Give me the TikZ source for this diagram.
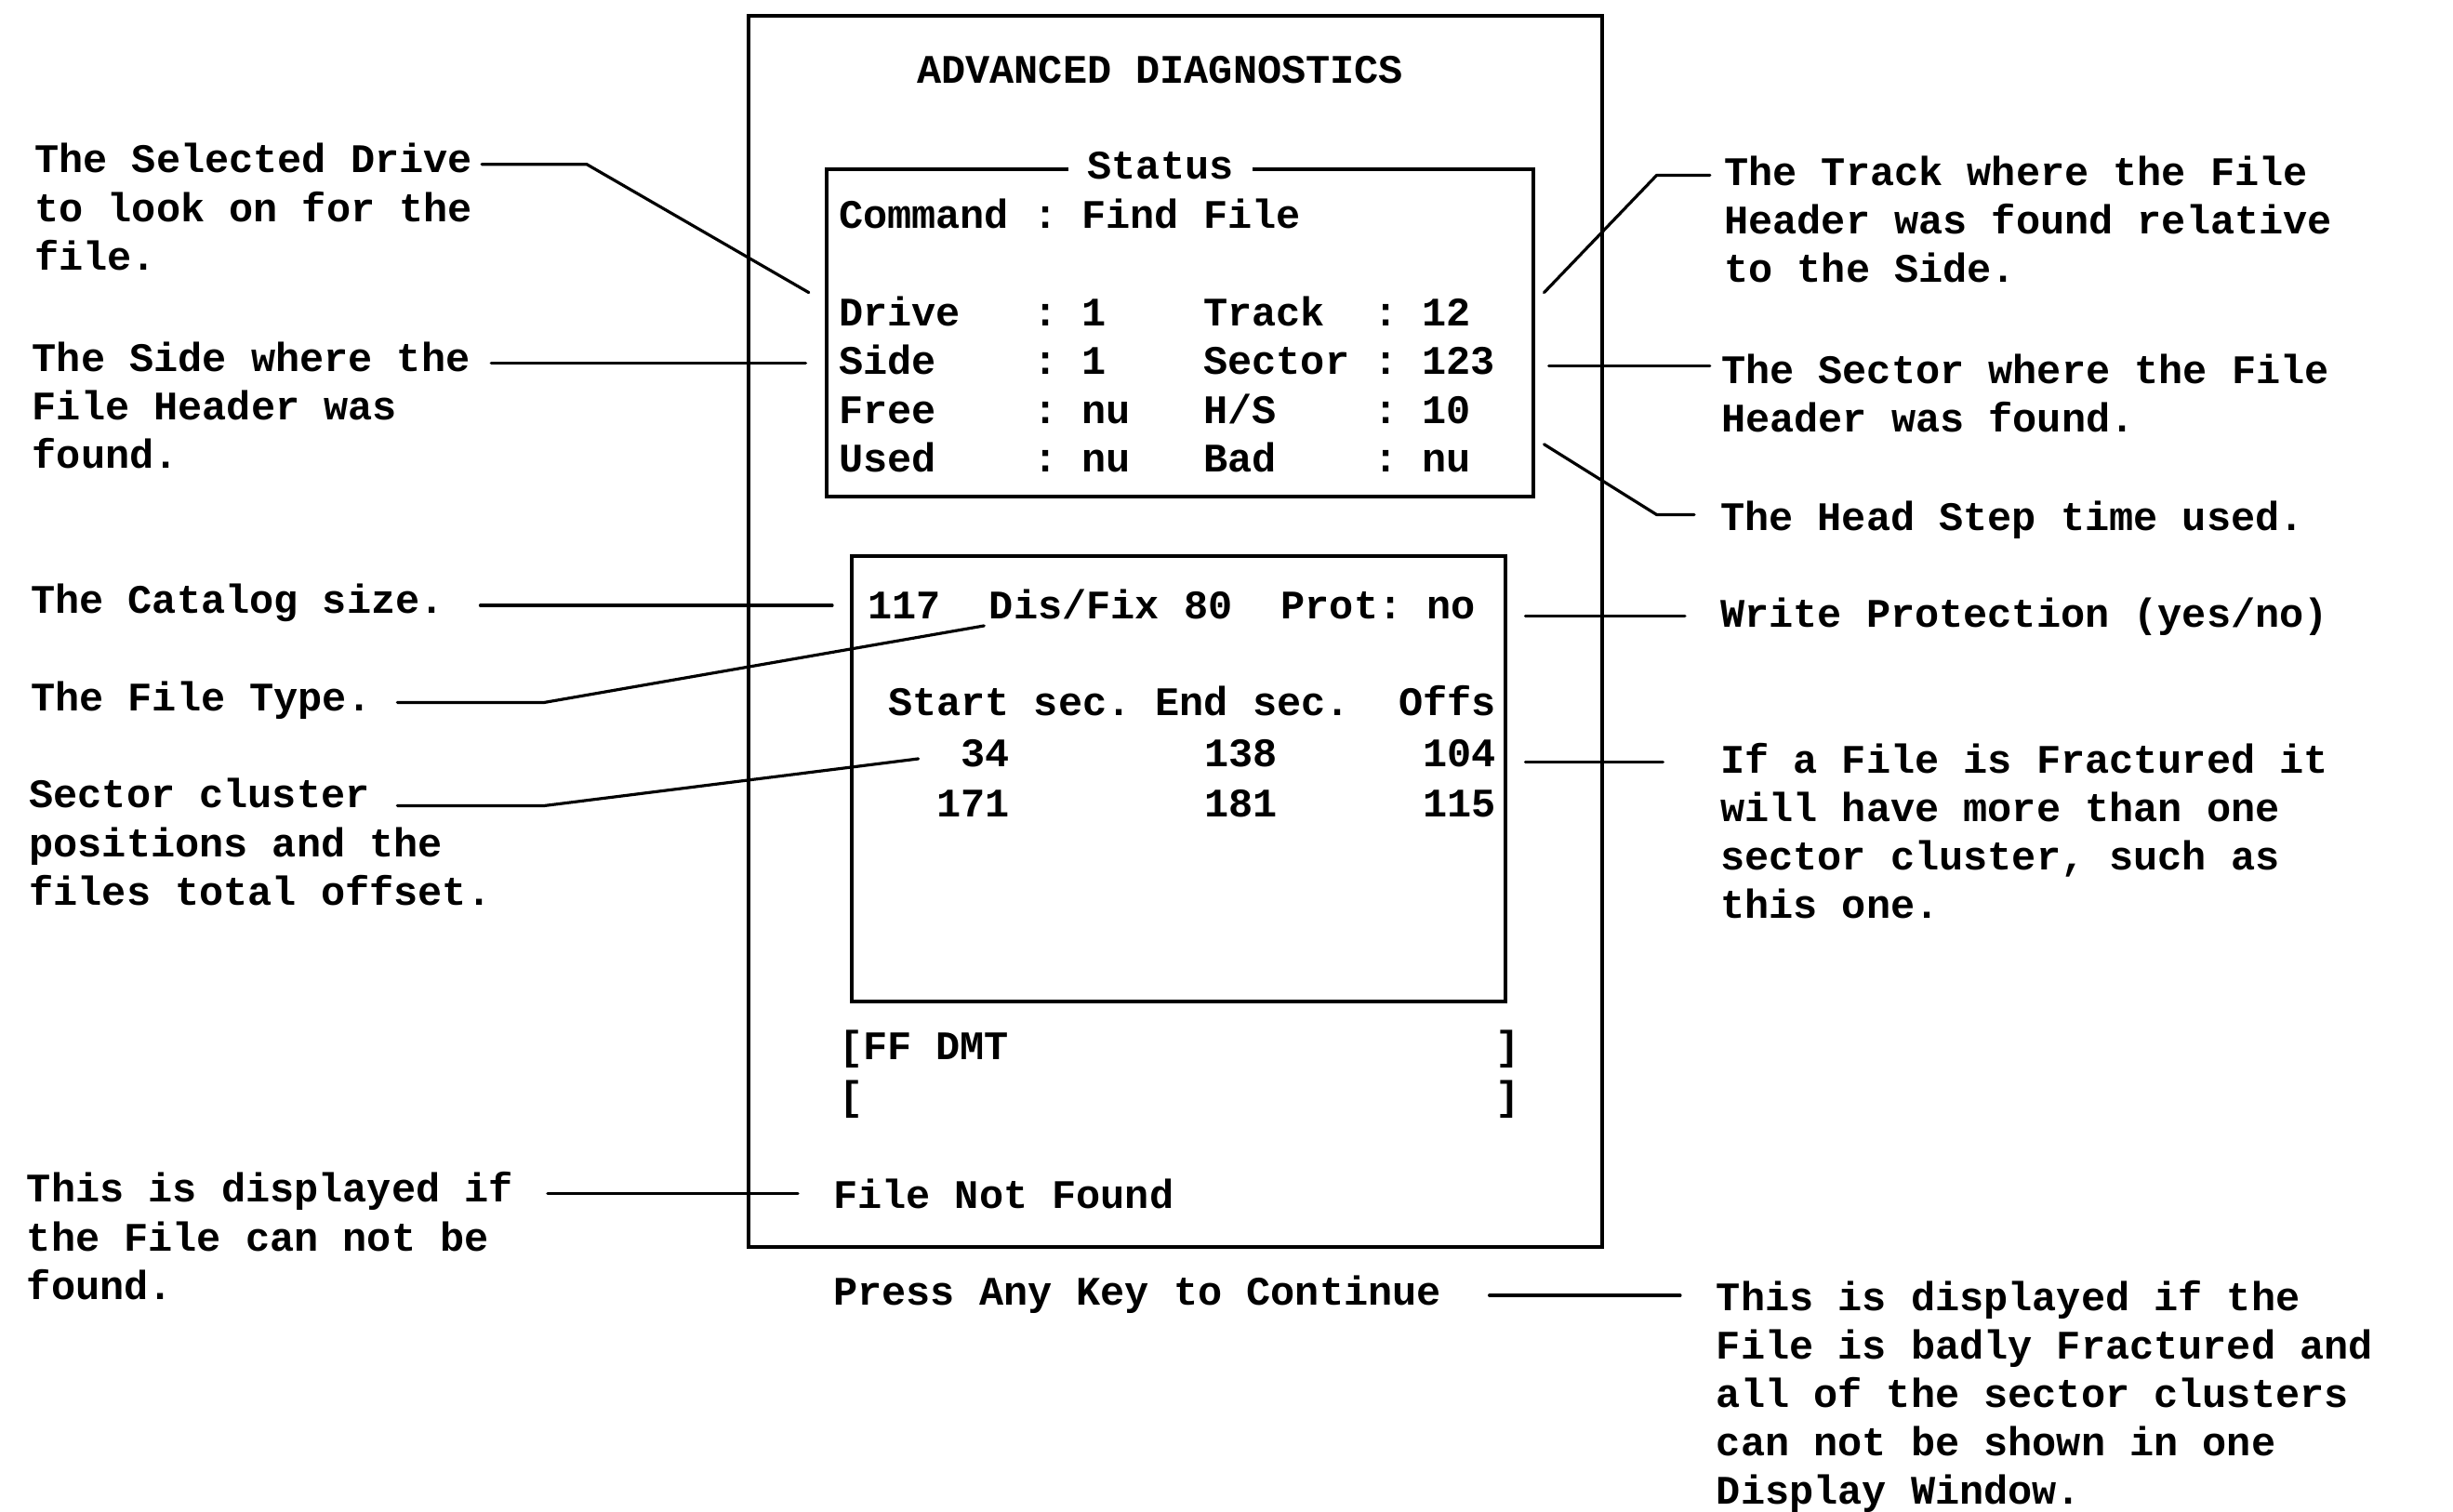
\documentclass[tikz,border=0pt]{standalone}
\usepackage{fontspec}
\newfontfamily\screenfont{Liberation Mono}
% multi-line label whose base line is the first line
\newcommand\mlines[1]{\begin{tabular}[t]{@{}l@{}}#1\end{tabular}}
\frenchspacing
\begin{document}
\begin{tikzpicture}[x=1pt,y=-1pt,
  txt/.style={anchor=base west, inner sep=0pt,
    font=\screenfont\bfseries\fontsize{25.9}{31}\selectfont},
  panel/.style={draw, line width=2.4pt, inner sep=0pt, anchor=north west},
  lead/.style={line width=1.9pt, line join=round, line cap=round}]
\useasboundingbox (0,0) rectangle (1568,966);

% ---------------- screen frames ----------------
\node[panel, minimum width=546pt, minimum height=787pt] (screen) at (477,9) {};
\node[panel, minimum width=452pt, minimum height=209pt] (statusbox) at (527,107) {};
\node[panel, minimum width=418pt, minimum height=285pt] (filebox) at (543,354) {};

% ---------------- screen contents ----------------
\node[txt] (title) at (586,53) {ADVANCED~DIAGNOSTICS};
\node[txt, fill=white, inner xsep=12pt] (status) at (683,114.5) {Status};
\node[txt] (cmd) at (536,146) {Command~:~Find~File};
\node[txt] (rowA) at (536,208.5) {Drive~~~:~1~~~~Track~~:~12};
\node[txt] (rowB) at (536,239.5) {Side~~~~:~1~~~~Sector~:~123};
\node[txt] (rowC) at (536,270.5) {Free~~~~:~nu~~~H/S~~~~:~10};
\node[txt] (rowD) at (536,301.5) {Used~~~~:~nu~~~Bad~~~~:~nu};

\node[txt] (catline) at (554.5,395.5) {117~~Dis/Fix~80~~Prot:~no};
\node[txt] (colhead) at (567.5,457.5) {Start~sec.~End~sec.~~Offs};
\node[txt] (clusA) at (567.5,490) {~~~34~~~~~~~~138~~~~~~104};
\node[txt] (clusB) at (567.5,522) {~~171~~~~~~~~181~~~~~~115};

\node[txt] (inA) at (536,677.5) {[FF~DMT~~~~~~~~~~~~~~~~~~~~]};
\node[txt] (inB) at (536,709.5) {[~~~~~~~~~~~~~~~~~~~~~~~~~~]};
\node[txt] (notfound) at (532.5,772.5) {File~Not~Found};
\node[txt] (press) at (532.5,834) {Press~Any~Key~to~Continue};

% ---------------- explanations, left ----------------
\node[txt] (lDrive) at (22,110.5) {\mlines{The Selected Drive\\to look on for the\\file.}};
\node[txt] (lSide) at (20.5,237.5) {\mlines{The Side where the\\File Header was\\found.}};
\node[txt] (lCat) at (19.5,392) {The Catalog size.};
\node[txt] (lType) at (19.5,454.5) {The File Type.};
\node[txt] (lSect) at (18.5,516.5) {\mlines{Sector cluster\\positions and the\\files total offset.}};
\node[txt] (lNotF) at (17,768.5) {\mlines{This is displayed if\\the File can not be\\found.}};

% ---------------- explanations, right ----------------
\node[txt] (rTrack) at (1102,118.5) {\mlines{The Track where the File\\Header was found relative\\to the Side.}};
\node[txt] (rSect) at (1100,245) {\mlines{The Sector where the File\\Header was found.}};
\node[txt] (rHead) at (1099.5,339) {The Head Step time used.};
\node[txt] (rWP) at (1099.5,401) {Write Protection (yes/no)};
\node[txt] (rFrac) at (1099.5,494) {\mlines{If a File is Fractured it\\will have more than one\\sector cluster, such as\\this one.}};
\node[txt] (rBad) at (1097,837.5) {\mlines{This is displayed if the\\File is badly Fractured and\\all of the sector clusters\\can not be shown in one\\Display Window.}};

% ---------------- leader end points ----------------
\coordinate (aDrive) at (308,105);   \coordinate (kDrive) at (375,105);  \coordinate (bDrive) at (517,187);
\coordinate (aSide) at (314,232);    \coordinate (bSide) at (515,232);
\coordinate (aCat) at (307,387);     \coordinate (bCat) at (532,387);
\coordinate (aType) at (254,449);    \coordinate (kType) at (348,449);   \coordinate (bType) at (629,400);
\coordinate (aSect) at (254,515);    \coordinate (kSect) at (348,515);   \coordinate (bSect) at (587,485);
\coordinate (aNotF) at (350,763);    \coordinate (bNotF) at (510,763);
\coordinate (aPress) at (952,828);   \coordinate (bPress) at (1074,828);
\coordinate (aTrack) at (987,187);   \coordinate (kTrack) at (1059,112); \coordinate (bTrack) at (1093,112);
\coordinate (aSector) at (990,234);  \coordinate (bSector) at (1093,234);
\coordinate (aHead) at (987,284);    \coordinate (kHead) at (1059,329);  \coordinate (bHead) at (1083,329);
\coordinate (aWP) at (975,394);      \coordinate (bWP) at (1077,394);
\coordinate (aFrac) at (975,487);    \coordinate (bFrac) at (1063,487);

% ---------------- leaders ----------------
\draw[lead] (aDrive) -- (kDrive) -- (bDrive);
\draw[lead] (aSide) -- (bSide);
\draw[lead] (aCat) -- (bCat);
\draw[lead] (aType) -- (kType) -- (bType);
\draw[lead] (aSect) -- (kSect) -- (bSect);
\draw[lead] (aNotF) -- (bNotF);
\draw[lead] (aPress) -- (bPress);
\draw[lead] (aTrack) -- (kTrack) -- (bTrack);
\draw[lead] (aSector) -- (bSector);
\draw[lead] (aHead) -- (kHead) -- (bHead);
\draw[lead] (aWP) -- (bWP);
\draw[lead] (aFrac) -- (bFrac);
\end{tikzpicture}
\end{document}
